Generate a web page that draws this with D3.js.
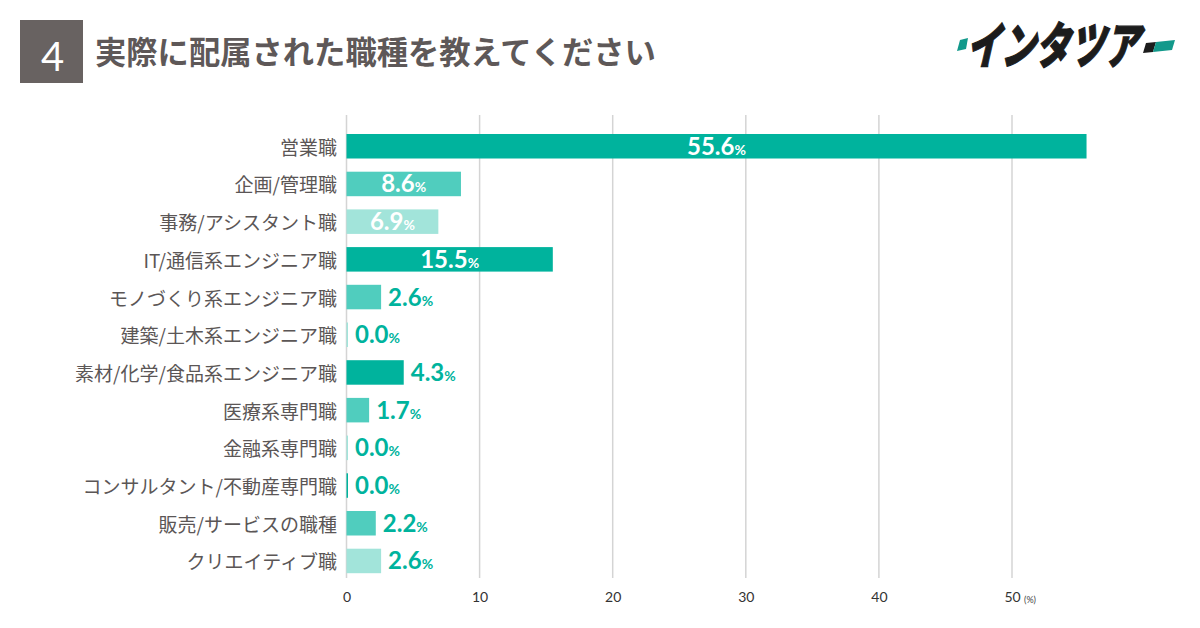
<!DOCTYPE html>
<html><head><meta charset="utf-8">
<script src="https://cdn.jsdelivr.net/npm/d3@7/dist/d3.min.js"></script>
<style>
html,body{margin:0;padding:0;background:#fff;}
svg{display:block;}
</style></head>
<body>
<svg id="chart" width="1200" height="628"></svg>
<script>
const categories = ["営業職","企画/管理職","事務/アシスタント職","IT/通信系エンジニア職","モノづくり系エンジニア職","建築/土木系エンジニア職","素材/化学/食品系エンジニア職","医療系専門職","金融系専門職","コンサルタント/不動産専門職","販売/サービスの職種","クリエイティブ職"];
const values = [55.6, 8.6, 6.9, 15.5, 2.6, 0.0, 4.3, 1.7, 0.0, 0.0, 2.2, 2.6];
const tickValues = [0, 10, 20, 30, 40, 50];
const palette = ["#00B39D", "#50CDBE", "#A2E4DA"];
const titleText = "実際に配属された職種を教えてください";
const questionNo = "4";

const svg = d3.select("#chart");

// header
svg.append("rect").attr("x",20).attr("y",20).attr("width",63).attr("height",63).attr("fill","#686261");
svg.append("text").attr("x",52.5).attr("y",71).attr("text-anchor","middle")
  .attr("font-family","Lato, 'Noto Sans'").attr("font-weight",400).attr("font-size",40)
  .attr("fill","#fff").text(questionNo);
svg.append("text").attr("x",95).attr("y",50).attr("dominant-baseline","central")
  .attr("font-family","'Noto Sans CJK JP'").attr("font-weight",700).attr("font-size",31.3)
  .attr("fill","#5e5858").text(titleText);

// logo
const logo = svg.append("g");
logo.append("polygon").attr("points","960,40 968,38 966,49 957,51").attr("fill","#12998B");
logo.append("text").attr("x",0).attr("y",0)
  .attr("transform","translate(966,64) scale(0.69,1) skewX(-18)")
  .attr("font-family","'Noto Sans CJK JP'").attr("font-weight",900).attr("font-size",50)
  .attr("fill","#1c1c1c").attr("stroke","#1c1c1c").attr("stroke-width",1.2)
  .text("インタツア");
logo.append("polygon").attr("points","1146,43 1156,42 1153,52 1143,53").attr("fill","#1c1c1c");
logo.append("polygon").attr("points","1156,42 1175,40 1172,50 1153,52").attr("fill","#12998B");

// scales
const x = d3.scaleLinear().domain([0,50]).range([346.5,1012]);
const y = d3.scaleBand().domain(categories).range([127.4,579.8]).paddingInner(0.35).paddingOuter(0.175);

// gridlines
svg.append("g").selectAll("line").data(tickValues).join("line")
  .attr("x1",d=>x(d)).attr("x2",d=>x(d)).attr("y1",115).attr("y2",578)
  .attr("stroke","#d4d4d4").attr("stroke-width",1.5);

// axis
const axis = svg.append("g").attr("transform","translate(0,588)")
  .call(d3.axisBottom(x).tickValues(tickValues).tickSize(0).tickPadding(4).tickFormat(d3.format("d")));
axis.select(".domain").remove();
axis.selectAll("text").attr("font-family","Lato").attr("font-weight",400).attr("font-size",14).attr("fill","#333");
svg.append("text").attr("x",1024).attr("y",603).attr("font-family","Lato, 'Noto Sans'").attr("font-size",9)
  .attr("fill","#444").text("(%)");

// bars
const data = categories.map((c,i)=>({c, v: values[i], col: palette[i%3]}));
svg.append("g").selectAll("rect").data(data).join("rect")
  .attr("x",x(0)).attr("y",d=>y(d.c))
  .attr("width",d=>Math.max(x(d.v)-x(0),1.5)).attr("height",y.bandwidth())
  .attr("fill",d=>d.col);

// category labels
svg.append("g").selectAll("text").data(data).join("text")
  .attr("x",337).attr("y",d=>y(d.c)+y.bandwidth()/2).attr("dominant-baseline","central")
  .attr("text-anchor","end").attr("font-family","'Noto Sans CJK JP'").attr("font-size",19)
  .attr("fill","#5b5656").text(d=>d.c);

// value labels
const inside = d => d.v > 5;
const lbl = svg.append("g").selectAll("text").data(data).join("text")
  .attr("x",d=> inside(d) ? (x(0)+x(d.v))/2 : Math.max(x(d.v),x(0)+1.5)+7)
  .attr("y",d=>y(d.c)+y.bandwidth()/2+8.5)
  .attr("text-anchor",d=>inside(d)?"middle":"start")
  .attr("font-family","Lato").attr("font-weight",700)
  .attr("fill",d=>inside(d)?"#fff":"#00B39D");
lbl.append("tspan").attr("font-size",24).text(d=>d.v.toFixed(1));
lbl.append("tspan").attr("font-size",14).text("%");
</script>
</body></html>
